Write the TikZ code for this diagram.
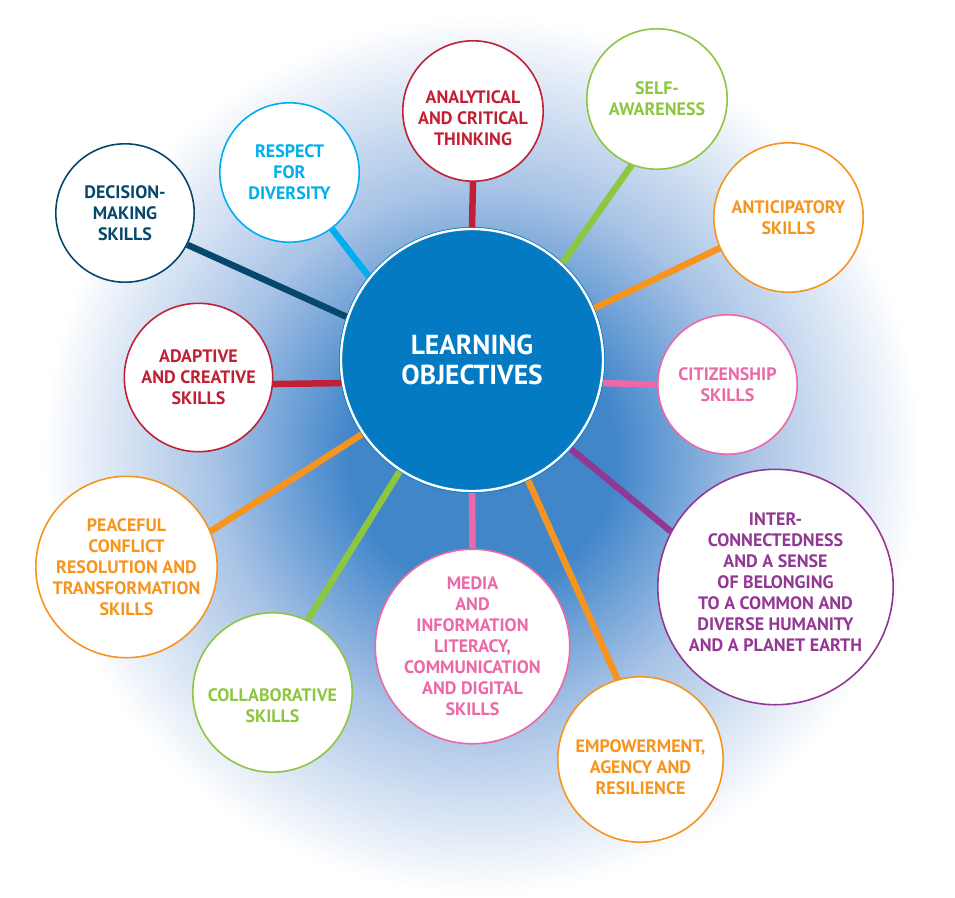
\documentclass[tikz,border=0pt]{standalone}
\usepackage{fontspec}
\setmainfont{PT Sans}
\definecolor{hubblue}{RGB}{3,122,194}
\definecolor{halodeep}{RGB}{66,134,202}
\definecolor{halomid}{RGB}{168,195,230}
\definecolor{lored}{RGB}{193,32,52}
\definecolor{logreen}{RGB}{141,198,63}
\definecolor{loorange}{RGB}{247,148,29}
\definecolor{lopink}{RGB}{236,104,166}
\definecolor{lopurple}{RGB}{146,56,148}
\definecolor{lonavy}{RGB}{6,72,108}
\definecolor{locyan}{RGB}{0,174,239}
\pgfdeclareradialshading{halo}{\pgfpoint{0bp}{0bp}}{color(0bp)=(halodeep); color(7bp)=(halodeep); color(14bp)=(halomid); color(23bp)=(white); color(50bp)=(white)}

\begin{document}
\begin{tikzpicture}[x=1pt, y=-1pt,
    hub/.style = {circle, fill=hubblue, draw=hubblue, double=white, line width=0.8pt, double distance=2.4pt, outer sep=2pt, minimum size=262pt, inner sep=0pt, align=center, text=white, font=\fontsize{27.5}{30}\selectfont\bfseries},
    skill/.style = {circle, draw=#1, text=#1, fill=white, line width=1.6pt, inner sep=0pt, align=center, font=\fontsize{18}{21}\selectfont\bfseries},
    link/.style = {draw=#1, line width=6.5pt}]
    \useasboundingbox (0,0) rectangle (955,897);
    \begin{scope}
        \clip (0,0) rectangle (955,897);
        \shade[shading=halo] (482,455) circle (478pt);
    \end{scope}

    \node[hub] (L) at (472,360) {LEARNING\\OBJECTIVES};

    \node[skill=lored, minimum size=140.4pt] (A) at (473,111) {\mbox{}\\[5.6pt]ANALYTICAL\\AND CRITICAL\\THINKING};
    \node[skill=logreen, minimum size=140.4pt] (S) at (657,99) {SELF-\\AWARENESS};
    \node[skill=loorange, minimum size=149.4pt] (P) at (788.5,217.5) {ANTICIPATORY\\SKILLS};
    \node[skill=lopink, minimum size=139.4pt] (C) at (727.5,384.5) {CITIZENSHIP\\SKILLS};
    \node[skill=lopurple, minimum size=235.4pt] (I) at (775.5,587) {INTER-\\CONNECTEDNESS\\AND A SENSE\\OF BELONGING\\TO A COMMON AND\\DIVERSE HUMANITY\\AND A PLANET EARTH\\[-11pt]\mbox{}};
    \node[skill=loorange, minimum size=165.4pt] (E) at (640.5,759.5) {\mbox{}\\[7.6pt]EMPOWERMENT,\\AGENCY AND\\RESILIENCE};
    \node[skill=lopink, minimum size=177.4pt] (M) at (472.5,646.5) {MEDIA\\AND\\INFORMATION\\LITERACY,\\COMMUNICATION\\AND DIGITAL\\SKILLS};
    \node[skill=logreen, minimum size=159.4pt] (K) at (272.5,692.5) {\mbox{}\\[17.6pt]COLLABORATIVE\\SKILLS};
    \node[skill=loorange, minimum size=181.4pt] (F) at (126.5,567) {PEACEFUL\\CONFLICT\\RESOLUTION AND\\TRANSFORMATION\\SKILLS};
    \node[skill=lored, minimum size=148.4pt] (V) at (198.5,377.5) {ADAPTIVE\\AND CREATIVE\\SKILLS};
    \node[skill=lonavy, minimum size=138.4pt] (D) at (125,213) {DECISION-\\MAKING\\SKILLS};
    \node[skill=locyan, minimum size=139.4pt] (R) at (289.5,172.5) {RESPECT\\FOR\\DIVERSITY};

    \path[link=lored] (L.90) edge (A.270);
    \path[link=logreen] (L.47) edge (S.249);
    \path[link=loorange] (L.23) edge (P.204);
    \path[link=lopink] (L.-10.4) edge (C.180);
    \path[link=lopurple] (L.-42) edge (I.152);
    \path[link=loorange] (L.-65) edge (E.106);
    \path[link=lopink] (L.270) edge (M.90);
    \path[link=logreen] (L.237) edge (K.64);
    \path[link=loorange] (L.214) edge (F.23);
    \path[link=lored] (L.190.4) edge (V.-5);
    \path[link=lonavy] (L.161) edge (D.-27);
    \path[link=locyan] (L.141) edge (R.-53);
\end{tikzpicture}
\end{document}
